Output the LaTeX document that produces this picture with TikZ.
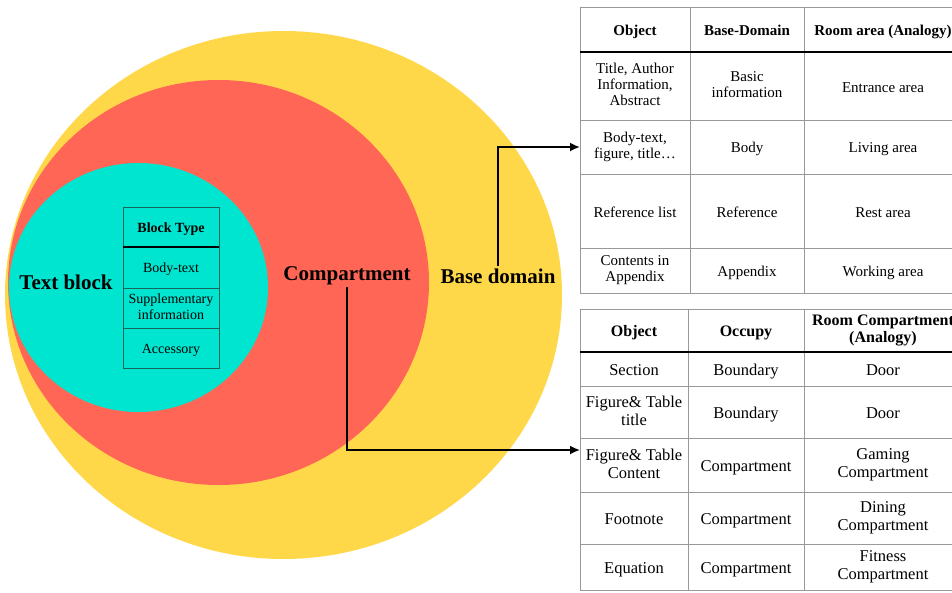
\documentclass[tikz,border=0pt]{standalone}
\usepackage{fontspec}
\setmainfont{Liberation Serif}
\usetikzlibrary{positioning, arrows.meta, calc, shapes.geometric}
\definecolor{domyellow}{HTML}{FFD84A}
\definecolor{compred}{HTML}{FF6655}
\definecolor{blockcyan}{HTML}{00E5CF}
\definecolor{blockline}{HTML}{17665D}
\tikzset{
  layers/.style={
	x=1pt, y=-1pt, % one unit is one pixel of the page, y runs down
	area/.style={ellipse, inner sep=0pt, outer sep=0pt}, % the nested areas
	arealabel/.style={font=\fontsize{21}{24}\selectfont\bfseries, inner sep=2pt}, % names of the areas
	cell/.style={draw=gray!80, line width=0.8pt, inner sep=0pt, outer sep=0pt, align=center,
	  font=\fontsize{15}{16}\selectfont,
	  execute at begin node={\rule{0pt}{1em}}, execute at end node={\rule[-0.2em]{0pt}{0pt}}}, % one table cell
	headcell/.style={cell, font=\fontsize{15}{16}\selectfont\bfseries},
	bigcell/.style={cell, font=\fontsize{16.5}{18}\selectfont},
	bigheadcell/.style={cell, font=\fontsize{16}{17.5}\selectfont\bfseries},
	blockcell/.style={cell, draw=blockline, font=\fontsize{14}{15.7}\selectfont, minimum width=96},
	headline/.style={line width=1.6pt, black}, % line under a header row
	link/.style={-{Latex[length=10pt, width=9pt]}, line width=1.8pt, black},
  }
}
\begin{document}
\begin{tikzpicture}[layers]
	  \useasboundingbox (0,0) rectangle (952,592);
	  \clip (0,0) rectangle (952,592);
	  % areas
	  \node[area, fill=domyellow, minimum width=557, minimum height=528] (base) at (283.5,295) {};
	  \node[area, fill=compred, minimum width=421, minimum height=405] (comp) at (218.5,282.5) {};
	  \node[area, fill=blockcyan, minimum width=259, minimum height=249] (block) at (138.5,287.5) {};
	  \node[arealabel] (blockl) at (66,282) {Text block};
	  \node[arealabel] (compl) at (347,276) {Compartment};
	  \node[arealabel] (basel) at (498,276) {Base domain};
	  % block types
	  \node[blockcell, font=\fontsize{14}{15.7}\selectfont\bfseries, minimum height=40, anchor=north west] (typehead) at (123,207) {Block Type};
	  \node[blockcell, minimum height=41, below=0pt of typehead] (type1) {Body-text};
	  \node[blockcell, minimum height=40, below=0pt of type1] (type2) {Supplementary\\information};
	  \node[blockcell, minimum height=40, below=0pt of type2] (type3) {Accessory};
	  \draw[headline] (typehead.south west) -- (typehead.south east);
	  % base domain table
	  \node[headcell, minimum width=110, minimum height=45, anchor=north west] (objhead) at (580,7) {Object};
	  \node[headcell, minimum width=114, minimum height=45, right=0pt of objhead] (domhead) {Base-Domain};
	  \node[headcell, minimum width=158, minimum height=45, right=0pt of domhead] (roomhead) {Room area (Analogy)};
	  \foreach \n/\ty/\h/\obj/\dom/\room in {
		1/52/68/{Title, Author\\Information,\\Abstract}/{Basic\\information}/Entrance area,
		2/120/54/{Body-text,\\figure, title\ldots}/Body/Living area,
		3/174/74/Reference list/Reference/Rest area,
		4/248/45/{Contents in\\Appendix}/Appendix/Working area}
	  {
		\node[cell, minimum width=110, minimum height=\h, anchor=north west] (obj\n) at (580,\ty) {\obj};
		\node[cell, minimum width=114, minimum height=\h, right=0pt of obj\n] (dom\n) {\dom};
		\node[cell, minimum width=158, minimum height=\h, right=0pt of dom\n] (room\n) {\room};
	  }
	  \draw[headline] (objhead.south west) -- (roomhead.south east);
	  % compartment table
	  \node[bigheadcell, minimum width=108, minimum height=43, anchor=north west] (partobjhead) at (580,309) {Object};
	  \node[bigheadcell, minimum width=116, minimum height=43, right=0pt of partobjhead] (occhead) {Occupy};
	  \node[bigheadcell, minimum width=158, minimum height=43, right=0pt of occhead] (parthead) {Room Compartment\\(Analogy)};
	  \foreach \n/\ty/\h/\obj/\occ/\room in {
		1/352/34/Section/Boundary/Door,
		2/386/52/{Figure\& Table\\title}/Boundary/Door,
		3/438/54/{Figure\& Table\\Content}/Compartment/{Gaming\\Compartment},
		4/492/52/Footnote/Compartment/{Dining\\Compartment},
		5/544/46/Equation/Compartment/{Fitness\\Compartment}}
	  {
		\node[bigcell, minimum width=108, minimum height=\h, anchor=north west] (partobj\n) at (580,\ty) {\obj};
		\node[bigcell, minimum width=116, minimum height=\h, right=0pt of partobj\n] (occ\n) {\occ};
		\node[bigcell, minimum width=158, minimum height=\h, right=0pt of occ\n] (part\n) {\room};
	  }
	  \draw[headline] (partobjhead.south west) -- (parthead.south east);
	  % links
	  \coordinate (occtip) at (580,450);
	  \draw[link] (basel.north) |- (obj2.west);
	  \draw[link] (compl.south) |- (occtip);
\end{tikzpicture}
\end{document}
